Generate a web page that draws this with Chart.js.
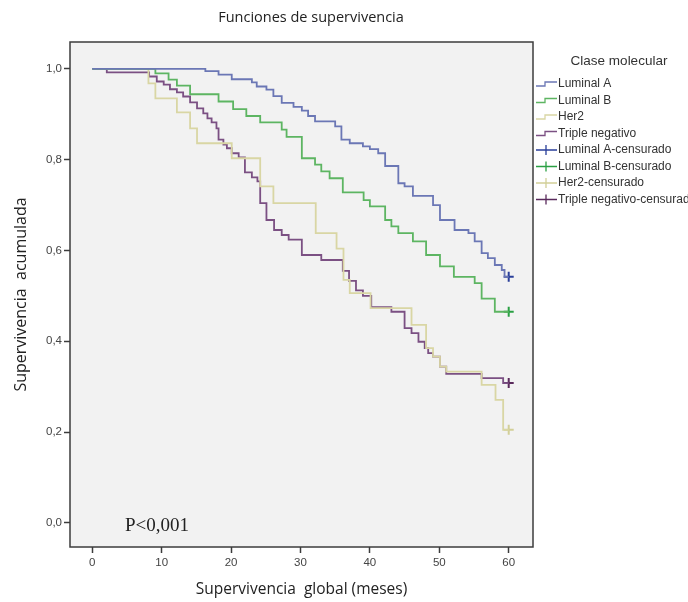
<!DOCTYPE html>
<html>
<head>
<meta charset="utf-8">
<script src="https://cdn.jsdelivr.net/npm/chart.js@4.4.1/dist/chart.umd.min.js"></script>
<style>
  body { margin: 0; background: #ffffff; }
  #wrap { width: 688px; height: 602px; }
</style>
</head>
<body>
<div id="wrap"><canvas id="kmChart" width="688" height="602"></canvas></div>
<script>
// Kaplan-Meier curves, values (months, cumulative survival)
const groups = ['Luminal A', 'Luminal B', 'Her2', 'Triple negativo'];

const lumATime = [0, 16.3, 18.2, 20.1, 23.0, 23.7, 25.1, 26.1, 27.3, 29.0, 30.2, 31.1, 32.1, 35.0, 35.9, 37.1, 39.0, 40.0, 41.2, 42.2, 44.1, 45.0, 46.2, 49.1, 50.1, 52.2, 54.2, 55.1, 56.1, 57.0, 58.0, 59.0, 59.4, 60];
const lumASurv = [1.0, 0.995, 0.987, 0.977, 0.970, 0.961, 0.954, 0.940, 0.925, 0.916, 0.908, 0.896, 0.884, 0.873, 0.844, 0.836, 0.829, 0.823, 0.814, 0.786, 0.748, 0.741, 0.720, 0.700, 0.667, 0.645, 0.638, 0.620, 0.594, 0.583, 0.568, 0.557, 0.542, 0.542];

const lumBTime = [0, 9.1, 11.0, 12.2, 14.1, 18.2, 20.3, 22.2, 24.2, 27.3, 28.0, 30.2, 32.1, 33.0, 34.2, 36.1, 39.1, 40.0, 42.2, 43.1, 44.1, 46.2, 48.1, 50.1, 52.1, 55.1, 56.1, 58.0, 60];
const lumBSurv = [1.0, 0.990, 0.976, 0.963, 0.944, 0.928, 0.911, 0.896, 0.882, 0.866, 0.850, 0.803, 0.789, 0.774, 0.759, 0.728, 0.711, 0.697, 0.667, 0.653, 0.638, 0.620, 0.590, 0.565, 0.542, 0.528, 0.494, 0.465, 0.465];

const her2Time = [0, 8.1, 9.1, 12.2, 14.1, 15.1, 20.1, 24.2, 26.1, 32.2, 35.2, 36.2, 37.1, 40.1, 46.0, 48.1, 49.1, 50.1, 51.0, 56.1, 58.1, 59.2, 60];
const her2Surv = [1.0, 0.968, 0.935, 0.904, 0.869, 0.836, 0.803, 0.741, 0.704, 0.638, 0.604, 0.535, 0.506, 0.473, 0.436, 0.385, 0.366, 0.344, 0.333, 0.304, 0.271, 0.205, 0.205];

const tnTime = [0, 2.1, 8.2, 9.3, 10.3, 11.2, 12.2, 13.1, 14.1, 15.1, 16.0, 16.6, 17.2, 17.9, 18.2, 18.9, 19.4, 20.1, 21.1, 22.0, 23.0, 23.8, 24.2, 25.1, 26.2, 27.3, 28.3, 30.2, 33.0, 36.1, 37.0, 38.0, 39.0, 40.2, 43.1, 45.0, 46.0, 47.0, 47.9, 48.4, 49.1, 50.1, 51.0, 56.1, 59.2, 60];
const tnSurv = [1.0, 0.992, 0.983, 0.972, 0.965, 0.955, 0.948, 0.939, 0.926, 0.913, 0.902, 0.891, 0.882, 0.869, 0.844, 0.833, 0.825, 0.814, 0.805, 0.772, 0.761, 0.752, 0.704, 0.667, 0.645, 0.634, 0.624, 0.590, 0.579, 0.555, 0.533, 0.512, 0.500, 0.475, 0.465, 0.429, 0.418, 0.399, 0.385, 0.374, 0.366, 0.344, 0.328, 0.319, 0.308, 0.308];

// censored observations (month, survival)
const censTime = [60, 60, 60, 60];
const censSurv = [0.542, 0.465, 0.205, 0.308];

const xTicks = [0, 10, 20, 30, 40, 50, 60];
const yTicks = [0, 0.2, 0.4, 0.6, 0.8, 1.0];

const lineColors = ['#6b77b5', '#5db562', '#d9d6a4', '#7b5083'];
const censColors = ['#2a3f9a', '#2aa043', '#d2cf98', '#5a2a5c'];

function pts(t, s) {
    return t.map((v, i) => ({ x: v, y: s[i] }));
}

const curves = [pts(lumATime, lumASurv), pts(lumBTime, lumBSurv), pts(her2Time, her2Surv), pts(tnTime, tnSurv)];

const datasets = [];
curves.forEach((c, i) => {
    datasets.push({
        type: 'line',
        label: groups[i],
        data: c,
        borderColor: lineColors[i],
        backgroundColor: lineColors[i],
        borderWidth: 1.8,
        stepped: 'before',
        pointRadius: 0,
        fill: false
    });
});
groups.forEach((g, i) => {
    datasets.push({
        type: 'scatter',
        label: g + '-censurado',
        data: [{ x: censTime[i], y: censSurv[i] }],
        pointStyle: 'cross',
        pointRadius: 5,
        borderWidth: 2,
        borderColor: censColors[i],
        backgroundColor: censColors[i]
    });
});

// plot background, frame, title, p value and legend
const decorations = {
    id: 'decorations',
    beforeDraw(chart) {
        const { ctx, chartArea: a } = chart;
        ctx.save();
        ctx.fillStyle = '#f2f2f2';
        ctx.fillRect(a.left, a.top, a.right - a.left, a.bottom - a.top);
        ctx.restore();
    },
    afterDraw(chart) {
        const { ctx, chartArea: a } = chart;
        ctx.save();
        ctx.strokeStyle = '#3c3c3c';
        ctx.lineWidth = 1.5;
        ctx.strokeRect(a.left, a.top, a.right - a.left, a.bottom - a.top);

        ctx.fillStyle = '#222';
        ctx.textAlign = 'center';
        ctx.textBaseline = 'middle';
        ctx.font = '14.5px "Open Sans"';
        ctx.fillText('Funciones de supervivencia', 311, 18);

        ctx.textAlign = 'left';
        ctx.font = '19px "Liberation Serif"';
        ctx.fillText('P<0,001', 125, 526);

        // legend
        ctx.fillStyle = '#333';
        ctx.textAlign = 'center';
        ctx.font = '13.5px "Liberation Sans"';
        ctx.fillText('Clase molecular', 619, 61);
        ctx.textAlign = 'left';
        ctx.font = '12px "Liberation Sans"';
        const labels = groups.concat(groups.map(g => g + '-censurado'));
        labels.forEach((lab, i) => {
            const y = 84 + i * 16.5;
            const k = i % 4;
            ctx.lineWidth = 1.3;
            if (i < 4) {
                ctx.strokeStyle = lineColors[k];
                ctx.beginPath();
                ctx.moveTo(536, y + 2);
                ctx.lineTo(545, y + 2);
                ctx.lineTo(545, y - 2);
                ctx.lineTo(557, y - 2);
                ctx.stroke();
            } else {
                ctx.strokeStyle = censColors[k];
                ctx.beginPath();
                ctx.moveTo(536, y);
                ctx.lineTo(557, y);
                ctx.moveTo(546, y - 5);
                ctx.lineTo(546, y + 5);
                ctx.stroke();
            }
            ctx.fillText(lab, 558, y);
        });
        ctx.restore();
    }
};

const ctx = document.getElementById('kmChart').getContext('2d');
const kmChart = new Chart(ctx, {
    data: { datasets: datasets },
    options: {
        responsive: false,
        animation: false,
        layout: { padding: { left: 0, right: 155, top: 42, bottom: 0 } },
        plugins: {
            legend: { display: false },
            tooltip: { enabled: false }
        },
        scales: {
            x: {
                type: 'linear',
                min: -3.2,
                max: 63.5,
                afterBuildTicks: function(scale) {
                    scale.ticks = xTicks.map(v => ({ value: v }));
                },
                afterFit: function(scale) { scale.height = 55; },
                grid: {
                    drawOnChartArea: false,
                    drawTicks: true,
                    tickLength: 6,
                    tickWidth: 1.5,
                    tickColor: '#3c3c3c'
                },
                border: { display: false },
                ticks: {
                    color: '#444',
                    font: { family: 'Liberation Sans', size: 11.5 },
                    padding: 3,
                    maxRotation: 0
                },
                title: {
                    display: true,
                    text: 'Supervivencia  global (meses)',
                    color: '#222',
                    font: { family: 'Open Sans', size: 15.5 },
                    padding: { top: 0, bottom: 3 }
                }
            },
            y: {
                type: 'linear',
                min: -0.053,
                max: 1.059,
                afterBuildTicks: function(scale) {
                    scale.ticks = yTicks.map(v => ({ value: v }));
                },
                afterFit: function(scale) { scale.width = 70; },
                grid: {
                    drawOnChartArea: false,
                    drawTicks: true,
                    tickLength: 6,
                    tickWidth: 1.5,
                    tickColor: '#3c3c3c'
                },
                border: { display: false },
                ticks: {
                    color: '#444',
                    font: { family: 'Liberation Sans', size: 11.5 },
                    padding: 2,
                    callback: function(v) { return v.toFixed(1).replace('.', ','); }
                },
                title: {
                    display: true,
                    text: 'Supervivencia  acumulada',
                    color: '#222',
                    font: { family: 'Open Sans', size: 16 },
                    padding: { top: 12, bottom: 0 }
                }
            }
        }
    },
    plugins: [decorations]
});
</script>
</body>
</html>
